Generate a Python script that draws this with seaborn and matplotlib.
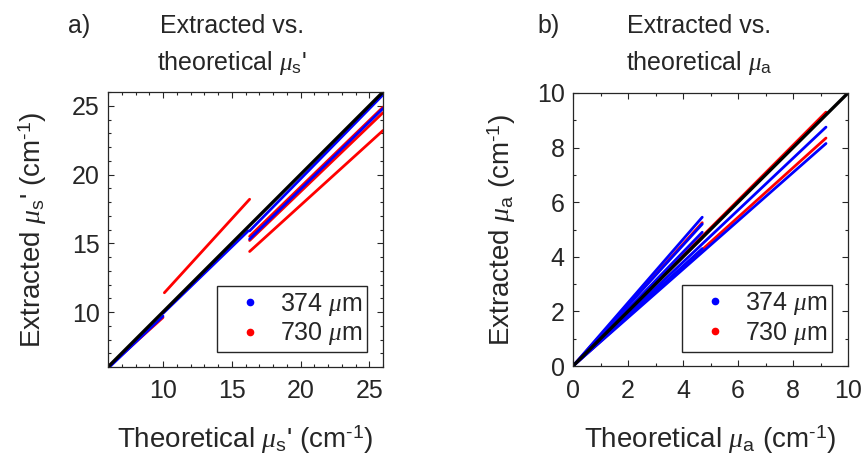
import pandas as pd
import seaborn as sns
import matplotlib.pyplot as plt
from matplotlib.lines import Line2D
from matplotlib.ticker import MultipleLocator

# reduced scattering: segments (x0, y0, x1, y1)
mus_374 = [(6.0, 5.9, 10.0, 9.7), (10.0, 9.9, 16.2, 15.9),
           (16.3, 15.9, 26.0, 25.8), (16.3, 15.3, 26.0, 24.8)]
mus_730 = [(6.0, 6.0, 10.0, 9.6), (10.1, 11.4, 16.3, 18.2),
           (16.3, 15.5, 26.0, 24.9), (16.3, 15.2, 26.0, 24.5),
           (16.3, 14.4, 26.0, 23.2)]
mus_ref = [6, 26]

# absorption: lines from the origin to (x1, y1), panel b
mua_374 = [(9.2, 8.75), (9.2, 8.15), (4.7, 5.45), (4.7, 5.2),
           (4.7, 4.9), (4.7, 4.3)]
mua_730 = [(9.2, 9.3), (9.2, 8.35), (4.7, 5.25), (4.7, 4.7)]
mua_ref = [0, 10]

labels = ['374 $\\mu$m', '730 $\\mu$m']
colors = {labels[0]: '#0000ff', labels[1]: '#ff0000'}


def seg_frame(segs, name):
    rows = []
    for i, s in enumerate(segs):
        rows.append([name, name + str(i), s[0], s[1]])
        rows.append([name, name + str(i), s[2], s[3]])
    return pd.DataFrame(rows, columns=['thick', 'seg', 'x', 'y'])


sns.set_style('white')
plt.rcParams['font.family'] = ['Liberation Sans', 'DejaVu Sans']
plt.rcParams['mathtext.fontset'] = 'custom'
plt.rcParams['mathtext.rm'] = 'Liberation Sans'
plt.rcParams['mathtext.it'] = 'Liberation Serif:italic'

fig = plt.figure(figsize=(8.66, 4.62), dpi=100)
ax1 = fig.add_axes([108 / 866, 1 - 367 / 462, 275 / 866, 275 / 462])
ax2 = fig.add_axes([573 / 866, 1 - 366 / 462, 275 / 866, 273 / 462])

df_a = pd.concat([seg_frame(mus_730, labels[1]), seg_frame(mus_374, labels[0])])
df_b = pd.concat([
    seg_frame([(0, 0, a, b) for a, b in mua_730], labels[1]),
    seg_frame([(0, 0, a, b) for a, b in mua_374], labels[0])])

for ax, df, ref in [(ax1, df_a, mus_ref), (ax2, df_b, mua_ref)]:
    sns.lineplot(data=df, x='x', y='y', hue='thick', units='seg',
                 estimator=None, palette=colors, lw=2.0, legend=False,
                 sort=False, ax=ax)
    ax.plot(ref, ref, color='black', lw=2.4)

ax1.set_xlim(6, 26)
ax1.set_ylim(6, 26)
ax1.set_xticks([10, 15, 20, 25])
ax1.set_yticks([10, 15, 20, 25])
ax2.set_xlim(0, 10)
ax2.set_ylim(0, 10)
ax2.set_xticks(range(0, 11, 2))
ax2.set_yticks(range(0, 11, 2))

for ax in (ax1, ax2):
    ax.xaxis.set_minor_locator(MultipleLocator(1))
    ax.yaxis.set_minor_locator(MultipleLocator(1))
    ax.tick_params(which='both', direction='in', top=True, right=True,
                   bottom=True, left=True, colors='#262626', width=0.8)
    ax.tick_params(which='major', length=4.5, labelsize=18)
    ax.tick_params(which='minor', length=2.5)
    ax.tick_params(axis='x', pad=9)
    ax.tick_params(axis='y', pad=6)
    for sp in ax.spines.values():
        sp.set_color('#262626')
        sp.set_linewidth(0.9)
    handles = [Line2D([], [], ls='none', marker='o', ms=4.5,
                      color=colors[l], label=l) for l in labels]
    ax.legend(handles=handles, loc='lower right',
              bbox_to_anchor=(0.943, 0.053), borderaxespad=0,
              fontsize=18, frameon=True, fancybox=False, framealpha=1,
              edgecolor='#262626', handletextpad=0.1, handlelength=2.2,
              labelspacing=0.1, borderpad=0.2)

lab = dict(fontsize=20)
ax1.set_xlabel("Theoretical $\\mu_\\mathrm{s}$' (cm$^{\\text{-}1}$)", **lab)
ax1.set_ylabel("Extracted $\\mu_\\mathrm{s}$' (cm$^{\\text{-}1}$)", **lab)
ax2.set_xlabel('Theoretical $\\mu_\\mathrm{a}$ (cm$^{\\text{-}1}$)', **lab)
ax2.set_ylabel('Extracted $\\mu_\\mathrm{a}$ (cm$^{\\text{-}1}$)', **lab)
ax1.xaxis.set_label_coords(0.5, (367 - 448) / 275)
ax2.xaxis.set_label_coords(0.5, (366 - 448) / 273)
for ax in (ax1, ax2):
    ax.xaxis.label.set_va('baseline')
ax1.yaxis.set_label_coords(-0.215, 0.5)
ax2.yaxis.set_label_coords(-0.2, 0.5)

tt = dict(fontsize=18, va='baseline')
fig.text(68 / 866, 1 - 33 / 462, 'a)', **tt)
fig.text(232 / 866, 1 - 33 / 462, 'Extracted vs.', ha='center', **tt)
fig.text(232 / 866, 1 - 70 / 462, "theoretical $\\mu_\\mathrm{s}$'",
         ha='center', **tt)
fig.text(537 / 866, 1 - 33 / 462, 'b)', **tt)
fig.text(699 / 866, 1 - 33 / 462, 'Extracted vs.', ha='center', **tt)
fig.text(699 / 866, 1 - 70 / 462, 'theoretical $\\mu_\\mathrm{a}$',
         ha='center', **tt)

fig.savefig('out.png', dpi=100)
